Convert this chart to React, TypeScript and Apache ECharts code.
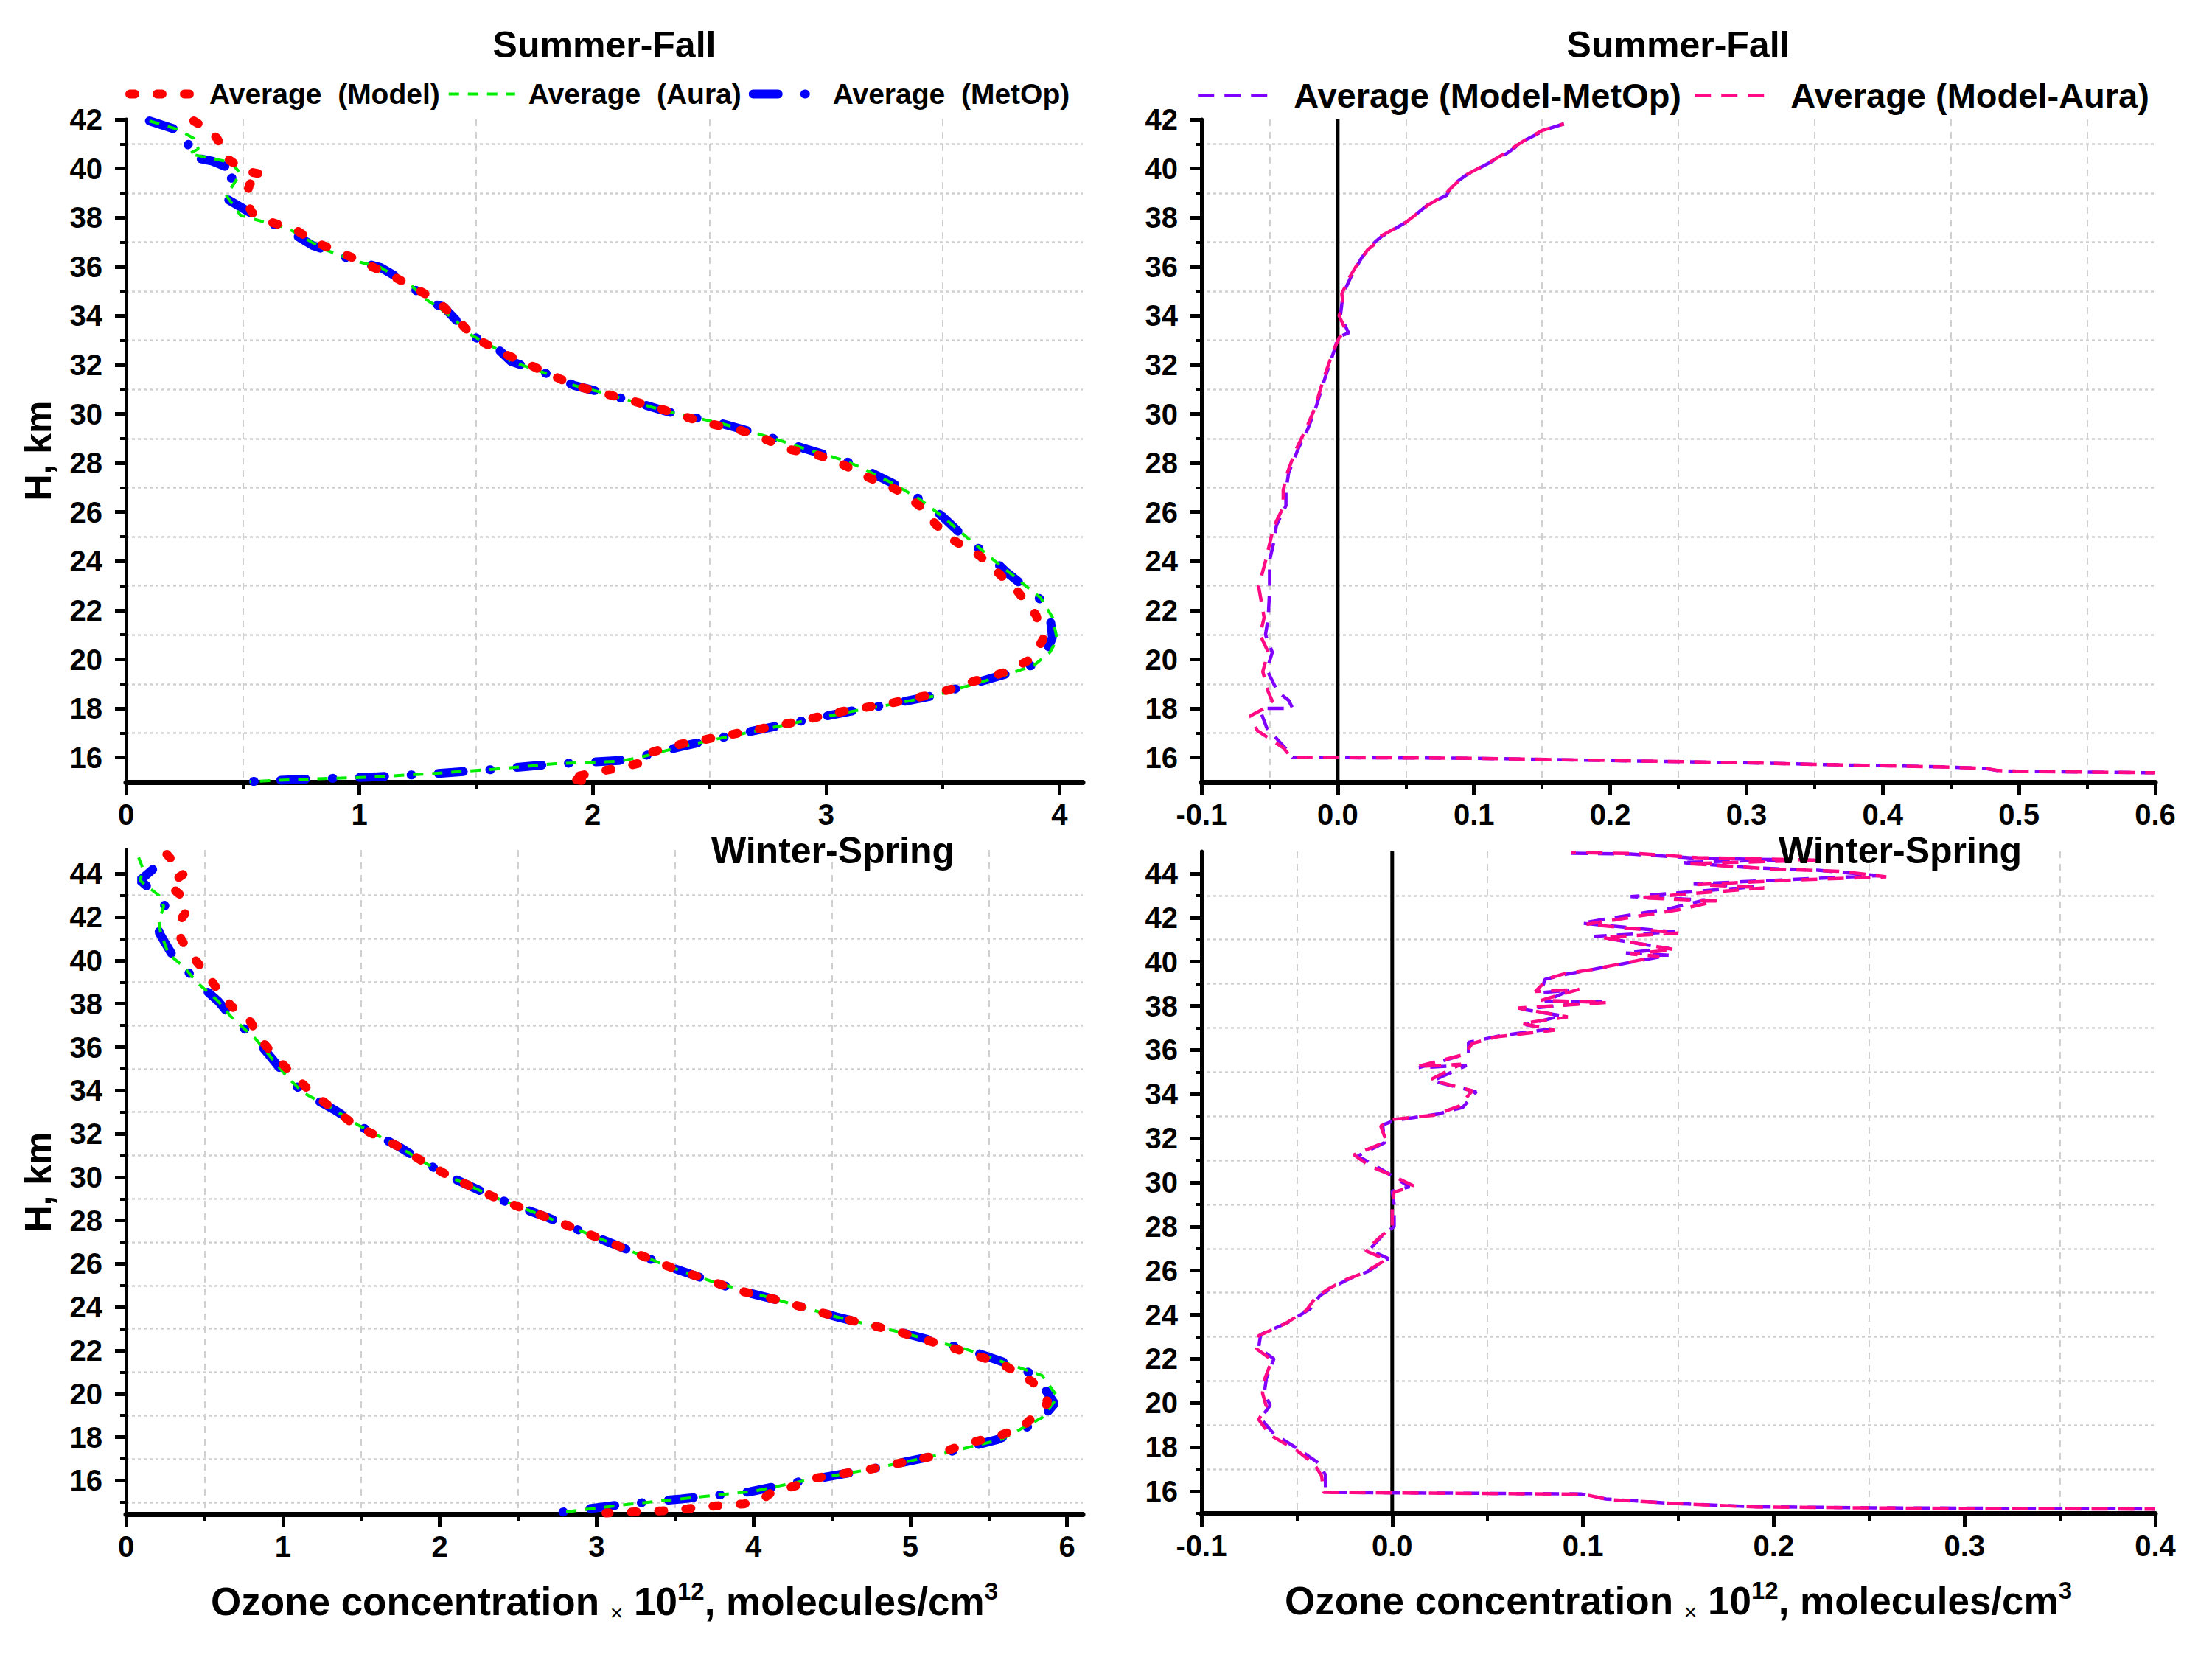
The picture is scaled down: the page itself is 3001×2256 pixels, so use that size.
import React, { useEffect, useRef } from 'react';
import * as echarts from 'echarts';

const FONT = '"Liberation Sans", Arial, Helvetica, sans-serif';
const W = 3001;
const H = 2256;

// ---------- tick values ----------
const sfConcTicks = [0, 1, 2, 3, 4];
const sfConcMinor = [0.5, 1.5, 2.5, 3.5];
const sfDiffTicks = [-0.1, 0, 0.1, 0.2, 0.3, 0.4, 0.5, 0.6];
const sfDiffMinor = [-0.05, 0.05, 0.15, 0.25, 0.35, 0.45, 0.55];
const wsConcTicks = [0, 1, 2, 3, 4, 5, 6];
const wsConcMinor = [0.5, 1.5, 2.5, 3.5, 4.5, 5.5];
const wsDiffTicks = [-0.1, 0, 0.1, 0.2, 0.3, 0.4];
const wsDiffMinor = [-0.05, 0.05, 0.15, 0.25, 0.35];
const sfHeightTicks = [16, 18, 20, 22, 24, 26, 28, 30, 32, 34, 36, 38, 40, 42];
const sfHeightMinor = [17, 19, 21, 23, 25, 27, 29, 31, 33, 35, 37, 39, 41];
const wsHeightTicks = [16, 18, 20, 22, 24, 26, 28, 30, 32, 34, 36, 38, 40, 42, 44];
const wsHeightMinor = [15, 17, 19, 21, 23, 25, 27, 29, 31, 33, 35, 37, 39, 41, 43];

// ---------- texts ----------
const panelTitles = ['Summer-Fall', 'Summer-Fall', 'Winter-Spring', 'Winter-Spring'];
const nameModel = 'Average  (Model)';
const nameAura = 'Average  (Aura)';
const nameMetOp = 'Average  (MetOp)';
const nameDiffMetOp = 'Average (Model-MetOp)';
const nameDiffAura = 'Average (Model-Aura)';
const yName = 'H, km';
const xName = '{a|Ozone concentration }{x|×}{a| 10}{s|12}{a|, molecules/cm}{s|3}';

// ---------- data: [value, height km] ----------
const sfModel = [
  [0.29, 41.94], [0.35, 41.6], [0.39, 41.23], [0.41, 40.88], [0.43, 40.43], [0.51, 39.9], [0.59, 39.75],
  [0.53, 39.36], [0.51, 38.74], [0.54, 38.2], [0.61, 37.85], [0.73, 37.49], [0.8, 37.04], [0.89, 36.69],
  [0.98, 36.33], [1.16, 35.53], [1.28, 34.9], [1.36, 34.37], [1.43, 33.75], [1.49, 33.12], [1.63, 32.41],
  [1.71, 32.09], [1.92, 31.16], [2.13, 30.63], [2.27, 30.27], [2.48, 29.64], [2.62, 29.38], [2.75, 28.93],
  [2.83, 28.58], [2.97, 28.31], [3.07, 27.95], [3.18, 27.42], [3.31, 26.88], [3.4, 26.26], [3.47, 25.5],
  [3.55, 24.83], [3.66, 24.21], [3.74, 23.5], [3.82, 22.78], [3.9, 21.8], [3.93, 20.82], [3.88, 20.02],
  [3.77, 19.48], [3.64, 19.13], [3.53, 18.77], [3.42, 18.5], [3.29, 18.24], [3.07, 17.88], [2.86, 17.43],
  [2.62, 16.99], [2.38, 16.55], [2.24, 16.19], [2.23, 15.83], [2.12, 15.6], [2.0, 15.38], [1.89, 15.13],
  [2.02, 15.0],
];
const sfAura = [
  [0.1, 41.94], [0.22, 41.6], [0.29, 41.23], [0.3, 40.96], [0.31, 40.8], [0.27, 40.6], [0.45, 40.25],
  [0.49, 39.8], [0.45, 39.2], [0.43, 38.9], [0.49, 38.1], [0.55, 37.93], [0.69, 37.58], [0.85, 36.7],
  [0.98, 36.24], [1.09, 35.97], [1.22, 35.26], [1.28, 34.7], [1.36, 34.2], [1.43, 33.66], [1.48, 33.21],
  [1.6, 32.59], [1.65, 32.14], [1.84, 31.52], [1.92, 31.16], [2.03, 30.9], [2.16, 30.54], [2.32, 30.09],
  [2.54, 29.64], [2.64, 29.38], [2.8, 28.93], [2.91, 28.58], [3.07, 28.13], [3.14, 27.86], [3.29, 27.15],
  [3.4, 26.53], [3.5, 25.81], [3.6, 25.0], [3.72, 24.03], [3.78, 23.58], [3.92, 22.5], [3.97, 21.71],
  [3.99, 20.82], [3.96, 20.3], [3.89, 19.75], [3.78, 19.4], [3.65, 19.04], [3.46, 18.5], [3.27, 18.15],
  [3.11, 17.88], [2.92, 17.52], [2.65, 16.99], [2.38, 16.45], [2.2, 16.0], [2.11, 15.85], [1.84, 15.75],
  [1.57, 15.52], [1.3, 15.34], [1.04, 15.2], [0.77, 15.12], [0.53, 15.02],
];
const sfMetOp = [
  [0.1, 41.94], [0.21, 41.6], [0.28, 41.14], [0.26, 40.9], [0.26, 40.5], [0.37, 40.3], [0.49, 39.82],
  [0.44, 39.54], [0.42, 38.83], [0.5, 38.38], [0.595, 37.85], [0.675, 37.58], [0.8, 36.86], [0.88, 36.6],
  [0.98, 36.24], [1.09, 35.97], [1.22, 35.26], [1.29, 34.55], [1.36, 34.37], [1.43, 33.66], [1.48, 33.21],
  [1.6, 32.59], [1.65, 32.14], [1.84, 31.52], [1.92, 31.16], [2.03, 30.9], [2.16, 30.54], [2.32, 30.09],
  [2.54, 29.64], [2.64, 29.38], [2.8, 28.93], [2.91, 28.58], [3.07, 28.13], [3.14, 27.86], [3.29, 27.15],
  [3.4, 26.53], [3.5, 25.81], [3.59, 25.0], [3.72, 24.03], [3.77, 23.58], [3.92, 22.43], [3.96, 21.71],
  [3.97, 20.9], [3.94, 20.2], [3.88, 19.75], [3.77, 19.4], [3.64, 19.04], [3.45, 18.5], [3.26, 18.15],
  [3.1, 17.88], [2.91, 17.52], [2.64, 16.99], [2.38, 16.45], [2.19, 16.0], [2.11, 15.88], [1.84, 15.74],
  [1.57, 15.51], [1.3, 15.33], [1.04, 15.2], [0.77, 15.12], [0.52, 15.02],
];
const sfDiffMetOp = [
  [0.166, 41.82], [0.153, 41.59], [0.137, 41.14], [0.124, 40.61], [0.115, 40.34], [0.094, 39.72],
  [0.083, 39.27], [0.08, 38.91], [0.067, 38.56], [0.051, 37.84], [0.032, 37.22], [0.028, 37.04],
  [0.018, 36.4], [0.01, 35.62], [0.004, 34.9], [0.003, 34.46], [0.002, 34.01], [0.008, 33.3], [0.0, 33.12],
  [-0.002, 32.68], [-0.009, 31.52], [-0.016, 30.27], [-0.022, 29.38], [-0.029, 28.58], [-0.036, 27.6],
  [-0.038, 26.88], [-0.038, 26.26], [-0.045, 25.46], [-0.047, 24.74], [-0.05, 24.03], [-0.05, 22.78],
  [-0.051, 21.71], [-0.053, 21.0], [-0.048, 20.29], [-0.052, 19.57], [-0.044, 18.68], [-0.036, 18.33],
  [-0.033, 18.0], [-0.054, 18.0], [-0.056, 17.79], [-0.052, 17.2], [-0.037, 16.3], [-0.033, 16.0], [0.0, 16.0],
  [0.101, 15.97], [0.197, 15.88], [0.297, 15.79], [0.352, 15.72], [0.443, 15.62], [0.475, 15.56],
  [0.484, 15.47], [0.498, 15.44], [0.599, 15.38],
];
const sfDiffAura = [
  [0.166, 41.82], [0.15, 41.55], [0.137, 41.14], [0.122, 40.6], [0.113, 40.3], [0.093, 39.7], [0.085, 39.3],
  [0.078, 38.9], [0.066, 38.5], [0.05, 37.8], [0.03, 37.2], [0.029, 37.0], [0.022, 36.69], [0.015, 36.15],
  [0.009, 35.6], [0.003, 34.9], [0.004, 34.46], [0.001, 34.0], [0.006, 33.4], [0.001, 33.1], [-0.003, 32.6],
  [-0.01, 31.5], [-0.017, 30.2], [-0.024, 29.3], [-0.031, 28.5], [-0.037, 27.6], [-0.04, 26.9], [-0.04, 26.2],
  [-0.047, 25.4], [-0.05, 24.7], [-0.053, 24.0], [-0.058, 22.96], [-0.054, 21.7], [-0.057, 21.0],
  [-0.051, 20.3], [-0.055, 19.5], [-0.051, 18.68], [-0.048, 18.3], [-0.054, 18.0], [-0.064, 17.7],
  [-0.059, 17.1], [-0.04, 16.4], [-0.034, 16.0], [0.0, 16.0], [0.1, 15.97], [0.2, 15.88], [0.3, 15.79],
  [0.35, 15.72], [0.44, 15.62], [0.475, 15.56], [0.485, 15.47], [0.5, 15.44], [0.6, 15.38],
];
const wsModel = [
  [0.26, 44.9], [0.37, 44.0], [0.27, 43.5], [0.35, 43.0], [0.39, 42.3], [0.33, 41.7], [0.35, 41.0],
  [0.41, 40.3], [0.49, 39.6], [0.57, 38.8], [0.67, 37.9], [0.79, 37.2], [0.87, 36.25], [0.95, 35.55],
  [1.19, 33.85], [1.46, 32.4], [1.74, 31.4], [1.92, 30.6], [2.1, 29.9], [2.34, 29.1], [2.46, 28.75],
  [2.7, 28.1], [2.94, 27.4], [3.18, 26.7], [3.45, 25.9], [3.73, 25.2], [3.89, 24.8], [4.17, 24.3],
  [4.53, 23.55], [4.93, 22.85], [5.3, 22.05], [5.58, 21.4], [5.78, 20.55], [5.88, 19.6], [5.72, 18.5],
  [5.58, 18.1], [5.36, 17.7], [5.13, 17.1], [4.73, 16.5], [4.35, 16.06], [4.28, 15.78], [4.12, 15.47],
  [4.06, 15.15], [3.94, 14.92], [3.76, 14.83], [3.58, 14.7], [3.42, 14.6], [3.24, 14.55], [3.06, 14.5],
];
const wsAura = [
  [0.08, 44.75], [0.11, 44.2], [0.09, 43.7], [0.12, 43.5], [0.21, 43.0], [0.24, 42.5], [0.21, 41.8],
  [0.22, 41.3], [0.27, 40.3], [0.37, 39.7], [0.45, 39.0], [0.59, 38.1], [0.67, 37.4], [0.83, 36.35],
  [0.91, 35.65], [1.03, 34.6], [1.13, 33.9], [1.33, 33.1], [1.48, 32.4], [1.74, 31.4], [1.92, 30.6],
  [2.1, 29.9], [2.34, 29.1], [2.7, 28.1], [2.94, 27.4], [3.18, 26.7], [3.45, 25.9], [3.73, 25.2],
  [4.17, 24.3], [4.53, 23.55], [4.93, 22.85], [5.36, 22.05], [5.64, 21.35], [5.84, 20.85], [5.94, 19.85],
  [5.84, 18.9], [5.58, 17.9], [5.13, 17.1], [4.73, 16.5], [4.33, 16.0], [4.0, 15.5], [3.6, 15.2],
  [3.2, 14.9], [2.8, 14.55],
];
const wsMetOp = [
  [0.17, 44.2], [0.09, 43.7], [0.2, 43.0], [0.25, 42.5], [0.21, 41.3], [0.25, 40.8], [0.3, 40.2],
  [0.37, 39.7], [0.45, 39.0], [0.59, 38.1], [0.67, 37.4], [0.83, 36.35], [0.91, 35.65], [1.03, 34.6],
  [1.13, 33.9], [1.33, 33.1], [1.48, 32.4], [1.74, 31.4], [1.92, 30.6], [2.1, 29.9], [2.34, 29.1],
  [2.46, 28.75], [2.7, 28.1], [2.94, 27.4], [3.18, 26.7], [3.45, 25.9], [3.73, 25.2], [3.89, 24.8],
  [4.17, 24.3], [4.53, 23.55], [4.93, 22.85], [5.36, 22.05], [5.64, 21.35], [5.8, 20.85], [5.92, 19.55],
  [5.82, 18.7], [5.56, 17.9], [5.13, 17.1], [4.73, 16.5], [4.33, 16.0], [3.97, 15.47], [3.54, 15.15],
  [3.15, 14.88], [2.76, 14.52],
];
const wsDiffMetOp = [
  [0.094, 44.92], [0.125, 44.88], [0.158, 44.7], [0.205, 44.62], [0.151, 44.5], [0.19, 44.25], [0.223, 44.15],
  [0.255, 43.9], [0.207, 43.72], [0.158, 43.52], [0.19, 43.4], [0.125, 42.95], [0.164, 42.8], [0.145, 42.4],
  [0.099, 41.75], [0.148, 41.35], [0.106, 41.15], [0.145, 40.6], [0.122, 40.4], [0.145, 40.3], [0.102, 39.6],
  [0.089, 39.4], [0.08, 39.2], [0.078, 38.6], [0.093, 38.7], [0.08, 38.2], [0.11, 38.2], [0.068, 37.85],
  [0.089, 37.55], [0.07, 37.15], [0.083, 36.95], [0.057, 36.65], [0.04, 36.35], [0.04, 35.85], [0.014, 35.2],
  [0.039, 35.3], [0.021, 34.6], [0.044, 34.1], [0.037, 33.4], [0.024, 33.1], [0.001, 32.8], [-0.005, 32.6],
  [-0.004, 31.8], [-0.018, 31.2], [-0.01, 30.8], [-0.002, 30.4], [0.009, 29.8], [0.0, 29.6], [0.001, 29.0],
  [0.001, 28.0], [-0.005, 27.6], [-0.012, 26.95], [-0.002, 26.55], [-0.013, 25.95], [-0.022, 25.65],
  [-0.031, 25.26], [-0.038, 24.86], [-0.043, 24.27], [-0.054, 23.68], [-0.069, 23.1], [-0.07, 22.5],
  [-0.062, 22.0], [-0.066, 21.1], [-0.067, 20.5], [-0.064, 19.9], [-0.069, 19.3], [-0.062, 18.6],
  [-0.049, 17.9], [-0.039, 17.3], [-0.035, 16.75], [-0.035, 15.95], [0.099, 15.88], [0.112, 15.65],
  [0.148, 15.45], [0.19, 15.3], [0.256, 15.25], [0.4, 15.2],
];
const wsDiffAura = [
  [0.094, 44.95], [0.13, 44.9], [0.16, 44.72], [0.225, 44.6], [0.155, 44.45], [0.2, 44.2], [0.235, 44.1],
  [0.259, 43.85], [0.21, 43.7], [0.16, 43.5], [0.195, 43.35], [0.13, 42.9], [0.17, 42.75], [0.15, 42.35],
  [0.102, 41.7], [0.15, 41.3], [0.11, 41.1], [0.148, 40.55], [0.125, 40.35], [0.14, 40.25], [0.105, 39.65],
  [0.09, 39.45], [0.082, 39.25], [0.075, 38.65], [0.098, 38.75], [0.078, 38.25], [0.112, 38.15], [0.066, 37.9],
  [0.092, 37.5], [0.068, 37.2], [0.085, 36.9], [0.055, 36.6], [0.042, 36.3], [0.038, 35.8], [0.013, 35.25],
  [0.036, 35.35], [0.02, 34.65], [0.042, 34.15], [0.035, 33.45], [0.022, 33.05], [0.0, 32.85], [-0.006, 32.55],
  [-0.003, 31.85], [-0.02, 31.25], [-0.012, 30.75], [-0.001, 30.35], [0.011, 29.85], [0.001, 29.55], [0.0, 29.0],
  [0.0, 28.0], [-0.006, 27.55], [-0.014, 26.9], [-0.003, 26.5], [-0.015, 25.9], [-0.024, 25.6], [-0.033, 25.2],
  [-0.04, 24.8], [-0.045, 24.2], [-0.056, 23.6], [-0.07, 23.05], [-0.071, 22.45], [-0.063, 21.95],
  [-0.067, 21.05], [-0.068, 20.45], [-0.066, 19.85], [-0.07, 19.25], [-0.064, 18.55], [-0.05, 17.85],
  [-0.041, 17.25], [-0.037, 16.7], [-0.036, 15.95], [0.1, 15.87], [0.113, 15.63], [0.15, 15.44],
  [0.19, 15.29], [0.26, 15.24], [0.4, 15.19],
];

// ---------- styles ----------
const styleModel = { color: '#ff0000', width: 12, type: [7, 30], cap: 'round' };
const styleAura = { color: '#00ee00', width: 4, type: [14, 12], cap: 'butt' };
const styleMetOp = { color: '#0000ff', width: 12, type: [34, 36, 1, 36], cap: 'round' };
const styleDiffMetOp = { color: '#7f00ff', width: 4.5, type: [22, 14], cap: 'butt' };
const styleDiffAura = { color: '#ff0a84', width: 4.5, type: [22, 14], cap: 'butt', dashOffset: 16 };

const panels = [
  { left: 171, top: 162, width: 1298, height: 899, xMin: 0, xMax: 4.1, yMin: 15, yMax: 42,
    xT: sfConcTicks, xM: sfConcMinor, yT: sfHeightTicks, yM: sfHeightMinor, digits: 0, xName: false, zero: false,
    title: [820, 61] },
  { left: 1630, top: 162, width: 1294, height: 899, xMin: -0.1, xMax: 0.6, yMin: 15, yMax: 42,
    xT: sfDiffTicks, xM: sfDiffMinor, yT: sfHeightTicks, yM: sfHeightMinor, digits: 1, xName: false, zero: true,
    title: [2277, 61] },
  { left: 171, top: 1153, width: 1298, height: 901, xMin: 0, xMax: 6.1, yMin: 14.45, yMax: 45.1,
    xT: wsConcTicks, xM: wsConcMinor, yT: wsHeightTicks, yM: wsHeightMinor, digits: 0, xName: true, zero: false,
    title: [1130, 1154] },
  { left: 1630, top: 1155, width: 1294, height: 898, xMin: -0.1, xMax: 0.4, yMin: 15, yMax: 45,
    xT: wsDiffTicks, xM: wsDiffMinor, yT: wsHeightTicks, yM: wsHeightMinor, digits: 1, xName: true, zero: true,
    title: [2578, 1154] },
];

const seriesPlan = [
  { panel: 0, name: nameMetOp, data: sfMetOp, style: styleMetOp },
  { panel: 0, name: nameAura, data: sfAura, style: styleAura },
  { panel: 0, name: nameModel, data: sfModel, style: styleModel },
  { panel: 1, name: nameDiffMetOp, data: sfDiffMetOp, style: styleDiffMetOp },
  { panel: 1, name: nameDiffAura, data: sfDiffAura, style: styleDiffAura },
  { panel: 2, name: nameMetOp, data: wsMetOp, style: styleMetOp },
  { panel: 2, name: nameAura, data: wsAura, style: styleAura },
  { panel: 2, name: nameModel, data: wsModel, style: styleModel },
  { panel: 3, name: nameDiffMetOp, data: wsDiffMetOp, style: styleDiffMetOp },
  { panel: 3, name: nameDiffAura, data: wsDiffAura, style: styleDiffAura },
];

const labelStyle = { fontSize: 40, fontWeight: 'bold', fontFamily: FONT, color: '#000' };

function legendItem(name: string, st: any) {
  return {
    name,
    itemStyle: { opacity: 0 },
    lineStyle: { color: st.color, width: st.width, type: st.type, cap: st.cap, dashOffset: 0, opacity: 1 },
  };
}

function buildOption() {
  const grid: any[] = [];
  const xAxis: any[] = [];
  const yAxis: any[] = [];
  const series: any[] = [];
  const graphic: any[] = [];

  panels.forEach((p, i) => {
    grid.push({ left: p.left, top: p.top, width: p.width, height: p.height, containLabel: false, outerBoundsMode: 'none' });
    const fmt = (v: number) => (p.digits ? Number(v).toFixed(1) : String(Math.round(v)));
    xAxis.push({
      type: 'value', gridIndex: i, min: p.xMin, max: p.xMax, position: 'bottom',
      axisLine: { show: true, onZero: false, lineStyle: { color: '#000', width: 7 } },
      axisTick: { show: true, customValues: p.xT, length: 18, lineStyle: { color: '#000', width: 5 } },
      axisLabel: { show: true, customValues: p.xT, formatter: fmt, margin: 24, ...labelStyle },
      splitLine: { show: false },
      name: p.xName ? xName : '',
      nameLocation: 'middle',
      nameGap: 88,
      nameTextStyle: {
        color: '#000', fontFamily: FONT, fontWeight: 'bold', fontSize: 53,
        rich: {
          a: { fontSize: 53, fontWeight: 'bold', fontFamily: FONT, color: '#000', lineHeight: 60 },
          x: { fontSize: 30, fontWeight: 'normal', fontFamily: FONT, color: '#000', lineHeight: 30, verticalAlign: 'bottom' },
          s: { fontSize: 33, fontWeight: 'bold', fontFamily: FONT, color: '#000', lineHeight: 33, verticalAlign: 'top' },
        },
      },
    });
    xAxis.push({
      type: 'value', gridIndex: i, min: p.xMin, max: p.xMax, position: 'bottom',
      axisLine: { show: false },
      axisTick: { show: true, customValues: p.xM, length: 10, lineStyle: { color: '#000', width: 4 } },
      axisLabel: { show: false },
      splitLine: { show: true, lineStyle: { color: '#d0d0d0', width: 2, type: [9, 8] } },
    });
    yAxis.push({
      type: 'value', gridIndex: i, min: p.yMin, max: p.yMax, position: 'left',
      axisLine: { show: true, onZero: false, lineStyle: { color: '#000', width: 5 } },
      axisTick: { show: true, customValues: p.yT, length: 15, lineStyle: { color: '#000', width: 5 } },
      axisLabel: { show: true, customValues: p.yT, formatter: (v: number) => String(Math.round(v)), margin: 32, ...labelStyle },
      splitLine: { show: false },
      name: i % 2 === 0 ? yName : '',
      nameLocation: 'middle',
      nameGap: 94,
      nameTextStyle: { fontSize: 50, fontWeight: 'bold', fontFamily: FONT, color: '#000' },
    });
    yAxis.push({
      type: 'value', gridIndex: i, min: p.yMin, max: p.yMax, position: 'left',
      axisLine: { show: false, onZero: false },
      axisTick: { show: true, customValues: p.yM, length: 8, lineStyle: { color: '#000', width: 4 } },
      axisLabel: { show: false },
      splitLine: { show: true, lineStyle: { color: '#d0d0d0', width: 2.5, type: [4, 4] } },
    });
    if (p.zero) {
      series.push({
        type: 'line', name: 'zero' + i, xAxisIndex: 2 * i, yAxisIndex: 2 * i,
        data: [[0, p.yMin], [0, p.yMax]], symbol: 'none', silent: true, z: 1,
        lineStyle: { color: '#000', width: 5, type: 'solid' },
      });
    }
    graphic.push({
      type: 'text', x: p.title[0], y: p.title[1], z: 100,
      style: {
        text: panelTitles[i], fill: '#000', fontSize: 50, fontWeight: 'bold', fontFamily: FONT,
        align: 'center', verticalAlign: 'middle', textAlign: 'center', textVerticalAlign: 'middle',
      },
    });
  });

  seriesPlan.forEach((s) => {
    series.push({
      type: 'line', name: s.name, xAxisIndex: 2 * s.panel, yAxisIndex: 2 * s.panel,
      data: s.data, symbol: 'none', showSymbol: false, silent: true, z: 3,
      lineStyle: { ...s.style },
      itemStyle: { color: s.style.color },
    });
  });

  const legendText = (size: number, pad: number) => ({
    fontSize: size, fontWeight: 'bold', fontFamily: FONT, color: '#000', padding: [0, 0, 0, pad],
  });

  return {
    animation: false,
    backgroundColor: '#ffffff',
    grid, xAxis, yAxis, series, graphic,
    legend: [
      {
        data: [legendItem(nameModel, styleModel), legendItem(nameAura, styleAura), legendItem(nameMetOp, styleMetOp)],
        left: 170, top: 108, padding: 0,
        itemWidth: 90, itemHeight: 24, itemGap: 10, selectedMode: false,
        textStyle: legendText(39, 13),
      },
      {
        data: [legendItem(nameDiffMetOp, styleDiffMetOp), legendItem(nameDiffAura, styleDiffAura)],
        left: 1623, top: 106, padding: 0,
        itemWidth: 106, itemHeight: 24, itemGap: 16, selectedMode: false,
        textStyle: legendText(47, 19),
      },
    ],
  };
}

export default function App() {
  const ref = useRef<HTMLDivElement>(null);
  useEffect(() => {
    document.body.style.margin = '0';
    const chart = echarts.init(ref.current as HTMLDivElement, null, { renderer: 'svg', width: W, height: H });
    chart.setOption(buildOption() as any);
    return () => chart.dispose();
  }, []);
  return <div ref={ref} style={{ width: W, height: H, background: '#fff' }} />;
}
